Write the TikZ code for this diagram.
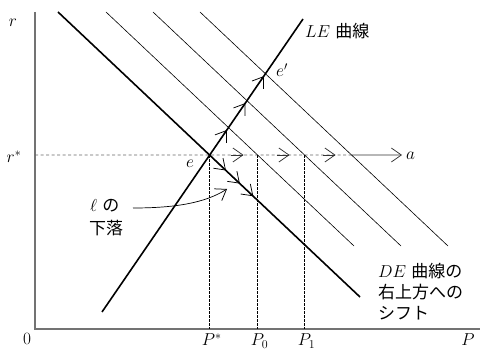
\documentclass[tikz,border=0pt]{standalone}
\usepackage{fontspec}
\newfontfamily\cjk{Noto Sans CJK JP}
\usetikzlibrary{arrows.meta,calc}
\begin{document}
\begin{tikzpicture}[x=1pt,y=1pt,
  thickline/.style={line width=1.6pt},
  thinline/.style={line width=0.6pt},
  axisline/.style={line width=1.2pt, draw=black!55},
  hdash/.style={draw=black!60, line width=0.8pt, dash pattern=on 3pt off 2.5pt},
  vdash/.style={draw=black, line width=0.6pt, dash pattern=on 2.5pt off 1.5pt},
  barb/.style={-{Straight Barb[length=10pt,width=14pt,line width=0.75pt]}, line width=0.7pt},
  lbl/.style={inner sep=0pt, font=\fontsize{17}{20}\selectfont},
  mlbl/.style={inner sep=0pt, font=\fontsize{18}{21}\selectfont},
]
\useasboundingbox (0,0) rectangle (480,351);
% axes
\coordinate (O) at (35,22);
\coordinate (ytop) at (35,339);
\coordinate (xend) at (480,22);
\draw[axisline] (ytop) -- (O) -- (xend);
% curves
\coordinate (DEa) at (58,339);   \coordinate (DEb) at (360,54);
\coordinate (LEa) at (102,39);   \coordinate (LEb) at (303,332);
\coordinate (T1a) at (106,339);  \coordinate (T1b) at (354,105);
\coordinate (T2a) at (153,339);  \coordinate (T2b) at (401,105);
\coordinate (T3a) at (200,339);  \coordinate (T3b) at (448,105);
\coordinate (Ra) at (35,196);    \coordinate (Rb) at (402,196);
\coordinate (e)  at (intersection of DEa--DEb and LEa--LEb);
\coordinate (e1) at (intersection of T1a--T1b and LEa--LEb);
\coordinate (e2) at (intersection of T2a--T2b and LEa--LEb);
\coordinate (e3) at (intersection of T3a--T3b and LEa--LEb);
\coordinate (h1) at (intersection of T1a--T1b and Ra--Rb);
\coordinate (h2) at (intersection of T2a--T2b and Ra--Rb);
\coordinate (h3) at (intersection of T3a--T3b and Ra--Rb);
\coordinate (Pstar) at (e |- O);
\coordinate (P0) at (h1 |- O);
\coordinate (P1) at (h2 |- O);
\coordinate (d0) at (intersection of DEa--DEb and h1--P0);
% dashed lines
\draw[hdash] (Ra) -- (h3);
\draw[barb, draw=black!80] (h3) -- (Rb);
\draw[vdash] (e) -- (Pstar);
\draw[vdash] (h1) -- (P0);
\draw[vdash] (h2) -- (P1);
% thin shifted DE lines
\draw[thinline] (T1a) -- (T1b);
\draw[thinline] (T2a) -- (T2b);
\draw[thinline] (T3a) -- (T3b);
% thick curves
\draw[thickline] (DEa) -- (DEb);
\draw[thickline] (LEa) -- (LEb);
% arrows along LE
\draw[barb] ($(e1)!15pt!(e)$) -- ($(e1)!3pt!(e)$);
\draw[barb] ($(e2)!15pt!(e1)$) -- ($(e2)!3pt!(e1)$);
\draw[barb] ($(e3)!15pt!(e2)$) -- ($(e3)!3pt!(e2)$);
% arrows along r*
\draw[barb, draw=black!80] ($(h1)+(-27,0)$) -- ($(h1)+(-14,0)$);
\draw[barb, draw=black!80] ($(h2)+(-28,0)$) -- ($(h2)+(-15,0)$);
\draw[barb, draw=black!80] ($(h3)+(-29,0)$) -- ($(h3)+(-16,0)$);
% arrows along DE below e
\draw[barb] ($(e)!0.10!(d0)$) -- ($(e)!0.34!(d0)$);
\draw[barb] ($(e)!0.40!(d0)$) -- ($(e)!0.63!(d0)$);
\draw[barb] ($(e)!0.68!(d0)$) -- ($(e)!0.91!(d0)$);
% labels
\node[mlbl, anchor=base] (lr) at (13,324) {$r$};
\node[mlbl, anchor=base] (lrs) at (14,188) {$r^*$};
\node[mlbl, anchor=base] (l0) at (27,6) {$0$};
\node[mlbl, anchor=base] (lPs) at ($(Pstar)+(2,-17)$) {$P^*$};
\node[mlbl, anchor=base] (lP0) at ($(P0)+(2,-17)$) {$P_0$};
\node[mlbl, anchor=base] (lP1) at ($(P1)+(2,-17)$) {$P_1$};
\node[mlbl, anchor=base] (lP) at (468,5) {$P$};
\node[mlbl, anchor=base] (le) at (190,183) {$e$};
\node[mlbl, anchor=base west] (lep) at (276,274) {$e^{\prime}$};
\node[mlbl, anchor=base west] (la) at (406,191) {$a$};
\node[lbl, anchor=base west] (lLE) at (305,313) {$LE$ {\cjk 曲線}};
\node[lbl, anchor=base west] (lDE1) at (378,73) {$DE$ {\cjk 曲線の}};
\node[lbl, anchor=base west] (lDE2) at (378,52) {\cjk 右上方への};
\node[lbl, anchor=base west] (lDE3) at (378,31) {\cjk シフト};
\node[lbl, anchor=base west] (lell) at (90,139) {$\ell$ {\cjk の}};
\node[lbl, anchor=base west] (lfall) at (89,116) {\cjk 下落};
\coordinate (cs) at (133,143);
\coordinate (ce) at (227,162);
\draw[barb] (cs) .. controls (175,143) and (205,148) .. (ce);
\end{tikzpicture}
\end{document}
